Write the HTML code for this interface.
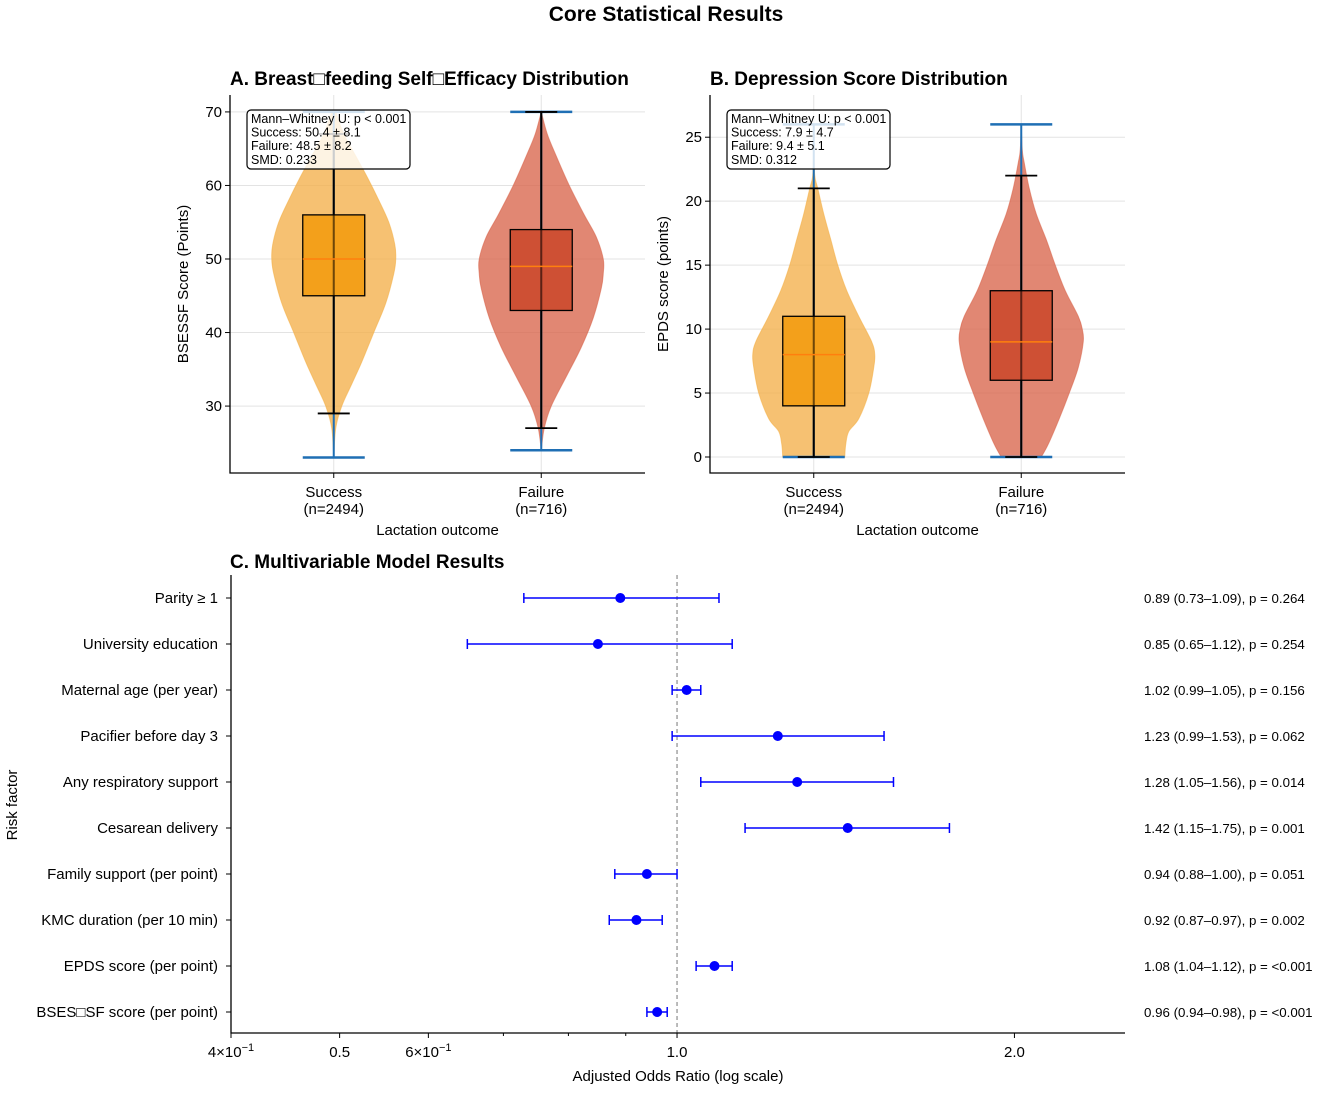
<!DOCTYPE html>
<html><head><meta charset="utf-8"><style>
body{margin:0;background:#fff;}
svg text{font-family:"Liberation Sans",Arial,sans-serif;fill:#000;}
</style></head><body>
<svg id="chart" width="1325" height="1088" viewBox="0 0 1325 1088" xmlns="http://www.w3.org/2000/svg">
<text x="666" y="21" text-anchor="middle" font-size="21" font-weight="bold">Core Statistical Results</text>
<g id="pa"></g>
<g id="pb"></g>
<g id="pc"></g>
</svg>
<script>
const NS="http://www.w3.org/2000/svg";
// ---- Panel A data ----
const groupLabels=["Success","Failure"];
const groupN=["(n=2494)","(n=716)"];
const aTicks=[30,40,50,60,70];
const aSuccessDensY=[23,27,30,33,36,40,44,48,50,52,55,58,61,64,67,70];
const aSuccessDensW=[0,2,8,18,28,40,52,60,62,61,55,45,34,22,10,2];
const aFailureDensY=[24,27,30,34,38,42,46,48,50,53,56,60,64,67,70];
const aFailureDensW=[0,3,10,25,40,52,60,62,62,55,43,28,15,6,0];
const aSuccessBox=[23,29,45,50,56,67,70]; // min, wlo, q1, med, q3, whi, max
const aFailureBox=[24,27,43,49,54,70,70];
const aStats=["Mann–Whitney U: p < 0.001","Success: 50.4 ± 8.1","Failure: 48.5 ± 8.2","SMD: 0.233"];
// ---- Panel B data ----
const bTicks=[0,5,10,15,20,25];
const bSuccessDensY=[0,1,2,3,5,7,8,9,11,13,15,17,19,21,22,24];
const bSuccessDensW=[31,32,35,45,55,60,61,58,45,33,24,17,10,4,1,0];
const bFailureDensY=[0,1,3,5,7,9,10,11,13,15,17,19,21,23,24,26];
const bFailureDensW=[20,27,38,48,57,62,61,57,44,34,25,15,8,3,1,0];
const bSuccessBox=[0,0,4,8,11,21,26];
const bFailureBox=[0,0,6,9,13,22,26];
const bStats=["Mann–Whitney U: p < 0.001","Success: 7.9 ± 4.7","Failure: 9.4 ± 5.1","SMD: 0.312"];
// ---- Panel C data ----
const factors=["Parity ≥ 1","University education","Maternal age (per year)","Pacifier before day 3","Any respiratory support","Cesarean delivery","Family support (per point)","KMC duration (per 10 min)","EPDS score (per point)","BSES\u25A1SF score (per point)"];
const orVals=[0.89,0.85,1.02,1.23,1.28,1.42,0.94,0.92,1.08,0.96];
const orLo=[0.73,0.65,0.99,0.99,1.05,1.15,0.88,0.87,1.04,0.94];
const orHi=[1.09,1.12,1.05,1.53,1.56,1.75,1.00,0.97,1.12,0.98];
const pLabels=["0.264","0.254","0.156","0.062","0.014","0.001","0.051","0.002","<0.001","<0.001"];

function mk(tag,attrs,parent,txt){const e=document.createElementNS(NS,tag);for(const k in attrs)e.setAttribute(k,attrs[k]);if(txt!==undefined)e.textContent=txt;parent.appendChild(e);return e;}

function smoothPath(pts){
  // Catmull-Rom to bezier
  let d=`M${pts[0][0]},${pts[0][1]}`;
  for(let i=0;i<pts.length-1;i++){
    const p0=pts[Math.max(0,i-1)],p1=pts[i],p2=pts[i+1],p3=pts[Math.min(pts.length-1,i+2)];
    const c1=[p1[0]+(p2[0]-p0[0])/6,p1[1]+(p2[1]-p0[1])/6];
    const c2=[p2[0]-(p3[0]-p1[0])/6,p2[1]-(p3[1]-p1[1])/6];
    d+=` C${c1[0]},${c1[1]} ${c2[0]},${c2[1]} ${p2[0]},${p2[1]}`;
  }
  return d;
}

function violinPanel(g,x0,x1,y0,y1,dmin,dmax,ticks,title,ylabel,dens,boxes,stats){
  const ys=v=>y1-(v-dmin)/(dmax-dmin)*(y1-y0);
  const cx=[x0+(x1-x0)*0.25,x0+(x1-x0)*0.75];
  ticks.forEach(t=>{const l=mk('line',{x1:x0,x2:x1,y1:ys(t),y2:ys(t),stroke:'#e3e3e3','stroke-width':1},g);
    });
  cx.forEach(c=>{const l=mk('line',{x1:c,x2:c,y1:y0,y2:y1,stroke:'#e3e3e3','stroke-width':1},g);
    });
  const fills=['#f3b04a','#d9654c'];const boxFill=['#f39c12','#cc4a2e'];
  dens.forEach((d,i)=>{
    const right=d[0].map((v,j)=>[cx[i]+d[1][j],ys(v)]);
    const left=d[0].map((v,j)=>[cx[i]-d[1][j],ys(v)]).reverse();
    const path=smoothPath(right)+' L'+smoothPath(left).slice(1)+' Z';
    const p=mk('path',{d:path,fill:fills[i],'fill-opacity':0.78,stroke:fills[i],'stroke-opacity':0.6},g);
    
  });
  boxes.forEach((b,i)=>{
    const c=cx[i];
    let l=mk('line',{x1:c-31,x2:c+31,y1:ys(b[0]),y2:ys(b[0]),stroke:'#1f6fb4','stroke-width':2.5},g);
    
    l=mk('line',{x1:c-31,x2:c+31,y1:ys(b[6]),y2:ys(b[6]),stroke:'#1f6fb4','stroke-width':2.5},g);
    
    l=mk('line',{x1:c,x2:c,y1:ys(b[6]),y2:ys(b[0]),stroke:'#1f6fb4','stroke-width':2},g);
    
    l=mk('line',{x1:c,x2:c,y1:ys(b[5]),y2:ys(b[1]),stroke:'#000','stroke-width':2},g);
    
    [b[1],b[5]].forEach(w=>{const q=mk('line',{x1:c-16,x2:c+16,y1:ys(w),y2:ys(w),stroke:'#000','stroke-width':1.8},g);
      });
    const r=mk('rect',{x:c-31,y:ys(b[4]),width:62,height:ys(b[2])-ys(b[4]),fill:boxFill[i],'fill-opacity':0.9,stroke:'#000','stroke-width':1.3},g);
    
    l=mk('line',{x1:c,x2:c,y1:ys(b[4]),y2:ys(b[2]),stroke:'#000','stroke-width':2,'stroke-opacity':0.5},g);
    
    l=mk('line',{x1:c-31,x2:c+31,y1:ys(b[3]),y2:ys(b[3]),stroke:'#ff7f0e','stroke-width':1.5},g);
    
  });
  let a=mk('polyline',{points:`${x0},${y0} ${x0},${y1} ${x1},${y1}`,fill:'none',stroke:'#000','stroke-width':1.3},g);
  
  ticks.forEach(t=>{let l=mk('line',{x1:x0-5,x2:x0,y1:ys(t),y2:ys(t),stroke:'#000'},g);
    
    const tx=mk('text',{x:x0-8,y:ys(t)+5,'text-anchor':'end','font-size':15},g,t);
    });
  cx.forEach((c,i)=>{let l=mk('line',{x1:c,x2:c,y1:y1,y2:y1+5,stroke:'#000'},g);
    
    let t=mk('text',{x:c,y:497,'text-anchor':'middle','font-size':15},g,groupLabels[i]);
    
    t=mk('text',{x:c,y:514,'text-anchor':'middle','font-size':15},g,groupN[i]);
    });
  let t=mk('text',{x:(x0+x1)/2,y:535,'text-anchor':'middle','font-size':15},g,'Lactation outcome');
  
  t=mk('text',{x:0,y:0,'text-anchor':'middle','font-size':15,transform:`translate(${x0-42},${(y0+y1)/2}) rotate(-90)`},g,ylabel);
  
  t=mk('text',{x:x0,y:85,'font-size':19,'font-weight':'bold'},g,title);
  
  const bx=mk('rect',{x:x0+17,y:110,width:163,height:59,rx:4,fill:'#fff','fill-opacity':0.8,stroke:'#000','stroke-width':1.2},g);
  
  stats.forEach((s,i)=>{const q=mk('text',{x:x0+21,y:123+i*13.6,'font-size':12.5},g,s);
    });
}
violinPanel(document.getElementById('pa'),230,645,95,473,20.9,72.3,aTicks,'A. Breast\u25A1feeding Self\u25A1Efficacy Distribution','BSESSF Score (Points)',
  [[aSuccessDensY,aSuccessDensW],[aFailureDensY,aFailureDensW]],[aSuccessBox,aFailureBox],aStats);
violinPanel(document.getElementById('pb'),710,1125,95,473,-1.25,28.3,bTicks,'B. Depression Score Distribution','EPDS score (points)',
  [[bSuccessDensY,bSuccessDensW],[bFailureDensY,bFailureDensW]],[bSuccessBox,bFailureBox],bStats);

// ---- Panel C ----
(function(){
  const g=document.getElementById('pc');
  const x0=231,x1=1125,y0=575,y1=1033,lmin=Math.log(0.4),lmax=Math.log(2.51);
  const xs=v=>x0+(Math.log(v)-lmin)/(lmax-lmin)*(x1-x0);
  const ys=i=>598+i*46;
  let t=mk('text',{x:230,y:568,'font-size':19,'font-weight':'bold'},g,'C. Multivariable Model Results');
  
  let l=mk('line',{x1:xs(1),x2:xs(1),y1:y0,y2:y1,stroke:'#777','stroke-dasharray':'4,3'},g);
  
  factors.forEach((f,i)=>{
    const y=ys(i);
    let e=mk('line',{x1:xs(orLo[i]),x2:xs(orHi[i]),y1:y,y2:y,stroke:'#0000ff','stroke-width':1.5},g);
    
    [orLo[i],orHi[i]].forEach(v=>{const c=mk('line',{x1:xs(v),x2:xs(v),y1:y-5,y2:y+5,stroke:'#0000ff','stroke-width':1.5},g);
      });
    const p=mk('circle',{cx:xs(orVals[i]),cy:y,r:5,fill:'#0000ff'},g);
    
    const tk=mk('line',{x1:x0-5,x2:x0,y1:y,y2:y,stroke:'#000'},g);
    
    let tx=mk('text',{x:218,y:y+5,'text-anchor':'end','font-size':15},g,f);
    
    tx=mk('text',{x:1144,y:y+5,'font-size':13.3},g,`${orVals[i].toFixed(2)} (${orLo[i].toFixed(2)}–${orHi[i].toFixed(2)}), p = ${pLabels[i]}`);
    
  });
  let a=mk('polyline',{points:`${x0},${y0} ${x0},${y1} ${x1},${y1}`,fill:'none',stroke:'#000','stroke-width':1.3},g);
  
  [0.7,0.8,0.9].forEach(v=>{const m=mk('line',{x1:xs(v),x2:xs(v),y1:y1,y2:y1+3,stroke:'#000'},g);
    });
  const xt=[[0.4,'4×10'],[0.5,'0.5'],[0.6,'6×10'],[1.0,'1.0'],[2.0,'2.0']];
  xt.forEach(([v,s])=>{const m=mk('line',{x1:xs(v),x2:xs(v),y1:y1,y2:y1+5,stroke:'#000'},g);
    
    const tx=mk('text',{x:xs(v),y:1057,'text-anchor':'middle','font-size':15},g);
    
    tx.textContent=s;
    if(s.includes('×')){mk('tspan',{dy:-6,'font-size':11},tx,'−1');}
  });
  t=mk('text',{x:678,y:1081,'text-anchor':'middle','font-size':15},g,'Adjusted Odds Ratio (log scale)');
  
  t=mk('text',{x:0,y:0,'text-anchor':'middle','font-size':15,transform:`translate(17,805) rotate(-90)`},g,'Risk factor');
  
})();
</script>
</body></html>
